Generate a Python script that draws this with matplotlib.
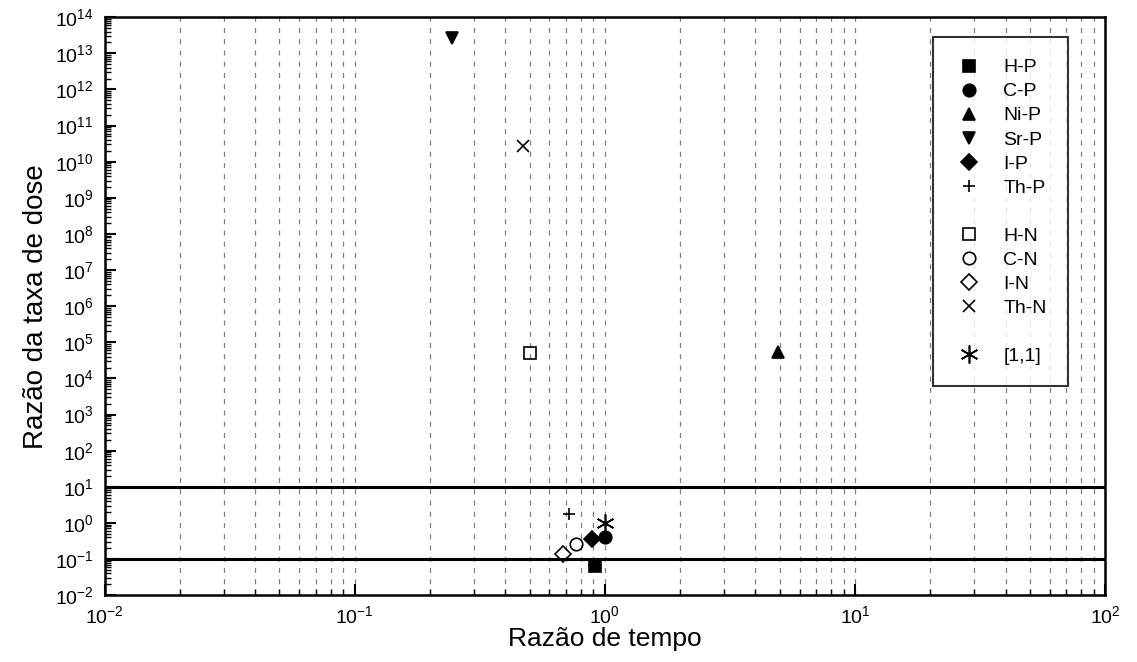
import matplotlib.pyplot as plt
from matplotlib.lines import Line2D
from matplotlib.ticker import LogLocator, NullFormatter

plt.rcParams['font.family'] = ['Liberation Sans', 'DejaVu Sans']

# Points
labels = ["H-P", "C-P", "Ni-P", "Sr-P", "I-P", "Th-P", "H-N", "C-N", "I-N", "Th-N", "[1,1]"]
x_ratio = [0.91, 1.0, 4.9, 0.245, 0.89, 0.72, 0.50, 0.77, 0.68, 0.47, 1.0]
y_ratio = [0.065, 0.42, 5.3e4, 2.6e13, 0.35, 1.8, 5.0e4, 0.26, 0.14, 2.8e10, 1.0]
markers = ["s", "o", "^", "v", "D", "+", "s", "o", "D", "x", (6, 2, 0)]
filled = [True, True, True, True, True, False, False, False, False, False, False]
sizes = [9, 9, 9, 9, 8, 8, 8, 9, 8, 9, 13]

# Reference band
band_lines = [10, 0.1]

fig, ax = plt.subplots(figsize=(11.37, 6.62), dpi=100)
fig.subplots_adjust(left=0.092, right=0.972, top=0.974, bottom=0.101)

ax.set_xscale("log")
ax.set_yscale("log")
ax.set_xlim(1e-2, 1e2)
ax.set_ylim(1e-2, 1e14)

ax.grid(True, axis="x", which="both", linestyle=(0, (4, 5)), color="0.5", linewidth=0.9)

for yv in band_lines:
    ax.axhline(yv, color="black", linewidth=2.2, zorder=3)

handles = []
for lab, x, y, m, f, s in zip(labels, x_ratio, y_ratio, markers, filled, sizes):
    face = "black" if f else "none"
    ax.plot([x], [y], linestyle="none", marker=m, markersize=s,
            markerfacecolor=face, markeredgecolor="black", markeredgewidth=1.2, zorder=4)
    handles.append(Line2D([], [], linestyle="none", marker=m, markersize=s,
                          markerfacecolor=face, markeredgecolor="black", markeredgewidth=1.2,
                          label=lab))

blank = Line2D([], [], linestyle="none", label=" ")
leg_handles = handles[:6] + [blank] + handles[6:10] + [blank] + handles[10:]
leg = ax.legend(handles=leg_handles, loc="upper right", bbox_to_anchor=(0.963, 0.965),
                fontsize=14, frameon=True, fancybox=False, borderpad=1.1,
                labelspacing=0.33, handlelength=1.5, handletextpad=1.0, borderaxespad=0)
leg.get_frame().set_edgecolor("black")
leg.get_frame().set_linewidth(1.5)

ax.yaxis.set_major_locator(LogLocator(base=10, numticks=20))
ax.yaxis.set_minor_locator(LogLocator(base=10, subs=range(2, 10), numticks=20))
ax.yaxis.set_minor_formatter(NullFormatter())
ax.tick_params(which="both", direction="in", labelsize=14)
ax.tick_params(which="major", length=8, width=1.5)
ax.tick_params(which="minor", length=4, width=1)
ax.tick_params(axis="x", pad=7)
ax.tick_params(axis="y", pad=8)

for sp in ax.spines.values():
    sp.set_linewidth(1.8)

ax.set_xlabel("Razão de tempo", fontsize=19, labelpad=0)
ax.set_ylabel("Razão da taxa de dose", fontsize=20, labelpad=4)

plt.savefig("out.png", dpi=100)
